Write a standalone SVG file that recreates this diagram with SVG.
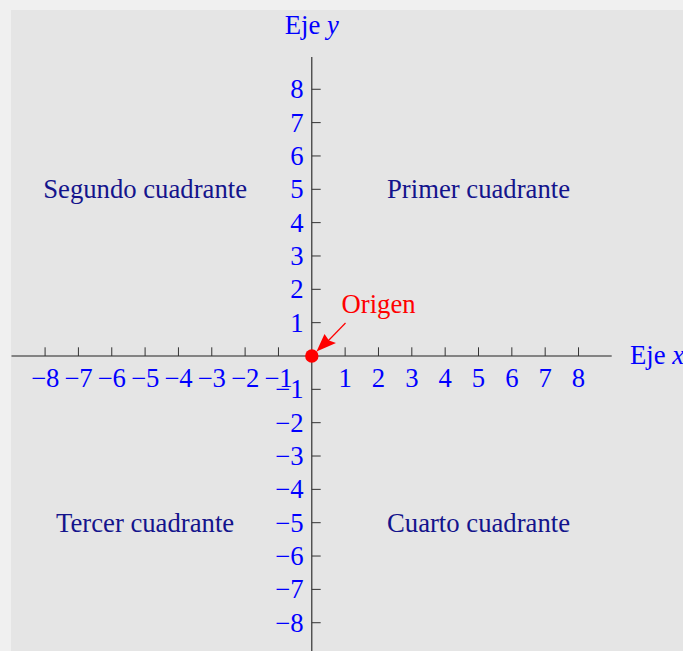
<svg xmlns="http://www.w3.org/2000/svg" width="683" height="651" viewBox="0 0 683 651">
<style>
text{font-family:"Liberation Serif","Times New Roman",serif;font-size:26.7px}
.lb{fill:#0000ff}
.xl{text-anchor:middle}
.yl{text-anchor:end}
.q{fill:#14148c;text-anchor:middle}
.ax{stroke:#222;stroke-width:1.1;fill:none}
.tk{stroke:#333;stroke-width:1;fill:none}
</style>
<rect x="0" y="0" width="683" height="651" fill="#f0f0f0"/>
<rect x="11" y="10" width="672" height="641" fill="#e5e5e5"/>
<g id="connectors">
<path class="ax" d="M11.5 356H611.7M311.8 57V651"/>
<path class="tk" d="M45.08 347.3V356M78.42 347.3V356M111.76 347.3V356M145.1 347.3V356M178.44 347.3V356M211.78 347.3V356M245.12 347.3V356M278.46 347.3V356M345.14 347.3V356M378.48 347.3V356M411.82 347.3V356M445.16 347.3V356M478.5 347.3V356M511.84 347.3V356M545.18 347.3V356M578.52 347.3V356"/>
<path class="tk" d="M311.8 89.28H320.7M311.8 122.62H320.7M311.8 155.96H320.7M311.8 189.3H320.7M311.8 222.64H320.7M311.8 255.98H320.7M311.8 289.32H320.7M311.8 322.66H320.7M311.8 389.34H320.7M311.8 422.68H320.7M311.8 456.02H320.7M311.8 489.36H320.7M311.8 522.7H320.7M311.8 556.04H320.7M311.8 589.38H320.7M311.8 622.72H320.7"/>
</g>
<g id="x-labels" class="lb xl">
<text x="45.08" y="387">−8</text><text x="78.42" y="387">−7</text><text x="111.76" y="387">−6</text><text x="145.1" y="387">−5</text><text x="178.44" y="387">−4</text><text x="211.78" y="387">−3</text><text x="245.12" y="387">−2</text><text x="278.46" y="387">−1</text>
<text x="345.14" y="387">1</text><text x="378.48" y="387">2</text><text x="411.82" y="387">3</text><text x="445.16" y="387">4</text><text x="478.5" y="387">5</text><text x="511.84" y="387">6</text><text x="545.18" y="387">7</text><text x="578.52" y="387">8</text>
</g>
<g id="y-labels" class="lb yl">
<text x="303.5" y="98.3">8</text><text x="303.5" y="131.6">7</text><text x="303.5" y="165">6</text><text x="303.5" y="198.3">5</text><text x="303.5" y="231.6">4</text><text x="303.5" y="265">3</text><text x="303.5" y="298.3">2</text><text x="303.5" y="331.7">1</text>
<text x="303.5" y="398.3">−1</text><text x="303.5" y="431.7">−2</text><text x="303.5" y="465">−3</text><text x="303.5" y="498.4">−4</text><text x="303.5" y="531.7">−5</text><text x="303.5" y="565">−6</text><text x="303.5" y="598.4">−7</text><text x="303.5" y="631.7">−8</text>
</g>
<g id="axis-y-title"><text class="lb" x="311.8" y="34" text-anchor="middle">Eje <tspan font-style="italic">y</tspan></text></g>
<g id="axis-x-title"><text class="lb" x="630" y="364">Eje <tspan font-style="italic">x</tspan></text></g>
<g id="q1"><text class="q" x="478.5" y="198">Primer cuadrante</text></g>
<g id="q2"><text class="q" x="145.1" y="198">Segundo cuadrante</text></g>
<g id="q3"><text class="q" x="145.1" y="531.5">Tercer cuadrante</text></g>
<g id="q4"><text class="q" x="478.5" y="531.5">Cuarto cuadrante</text></g>
<g id="origin">
<circle cx="311.8" cy="356" r="6.7" fill="#ff0000"/>
<path d="M345.5 323L328 341" stroke="#ff0000" stroke-width="1.2" fill="none"/>
<polygon points="316.5,351.5 324.5,334 329,340.5 336,343" fill="#ff0000"/>
<text x="341.5" y="313.3" fill="#ff0000">Origen</text>
</g>
</svg>
